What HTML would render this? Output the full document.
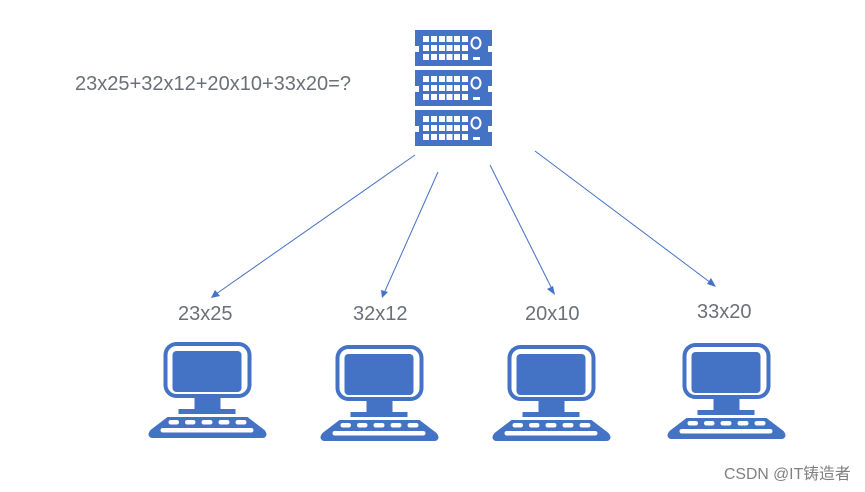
<!DOCTYPE html>
<html><head><meta charset="utf-8"><style>
html,body{margin:0;padding:0;background:#fff;width:865px;height:492px;overflow:hidden}
svg{display:block;filter:blur(.35px)}
text{font-family:"Liberation Sans","Noto Sans CJK SC",sans-serif}
</style></head><body>
<svg width="865" height="492" viewBox="0 0 865 492" xmlns="http://www.w3.org/2000/svg">
<defs>
<g id="srv">
<path fill="#4472c4" d="M415 0H492V16H488V22H492V36H415V22H419V16H415Z"/>
<g fill="#fff">
<rect x="423" y="6" width="6" height="6"/><rect x="431" y="6" width="6" height="6"/><rect x="439" y="6" width="6" height="6"/><rect x="446.500" y="6" width="6" height="6"/><rect x="454" y="6" width="6" height="6"/><rect x="462" y="6" width="6" height="6"/>
<rect x="423" y="15" width="6" height="6"/><rect x="431" y="15" width="6" height="6"/><rect x="439" y="15" width="6" height="6"/><rect x="446.500" y="15" width="6" height="6"/><rect x="454" y="15" width="6" height="6"/><rect x="462" y="15" width="6" height="6"/>
<rect x="423" y="24" width="6" height="6"/><rect x="431" y="24" width="6" height="6"/><rect x="439" y="24" width="6" height="6"/><rect x="446.500" y="24" width="6" height="6"/><rect x="454" y="24" width="6" height="6"/><rect x="462" y="24" width="6" height="6"/>
<rect x="473" y="27" width="7" height="3"/>
</g>
<ellipse cx="476" cy="13" rx="4.500" ry="5.500" fill="none" stroke="#fff" stroke-width="2"/>
</g>
<g id="pc">
<rect x="163" y="342" width="88" height="56" rx="13" fill="#4472c4"/>
<rect x="167" y="346" width="80" height="48" rx="9" fill="#fff"/>
<rect x="172" y="351" width="69" height="41" rx="4" fill="#4472c4"/>
<path fill="#4472c4" d="M194 397H220V409H235V414H178V409H194Z"/>
<path fill="#4472c4" d="M167 417H247L264 430Q267 434 265.500 436Q264.500 438 262 438H152Q149.500 438 148.500 436Q147 434 150 430Z"/>
<g fill="#fff">
<rect x="168" y="420" width="10.500" height="4.500" rx="2.200"/><rect x="184.500" y="420" width="10.500" height="4.500" rx="2.200"/><rect x="201" y="420" width="11" height="4.500" rx="2.200"/><rect x="218" y="420" width="11" height="4.500" rx="2.200"/><rect x="235" y="420" width="11" height="4.500" rx="2.200"/>
<rect x="160" y="428" width="93" height="4.500" rx="2.200"/>
</g>
</g>
</defs>
<use href="#srv" y="30"/><use href="#srv" y="70"/><use href="#srv" y="110"/>
<g stroke="#4472c4" stroke-width="1" fill="none">
<line x1="415" y1="155" x2="216" y2="294"/>
<line x1="438" y1="172" x2="385" y2="291"/>
<line x1="490" y1="165" x2="551" y2="287"/>
<line x1="535" y1="151" x2="711" y2="283"/>
</g>
<g fill="#4472c4">
<path d="M211 298L215 290L220 296Z"/>
<path d="M382 298L381 290L388 292Z"/>
<path d="M555 295L547 289L553 286Z"/>
<path d="M716 287L707 284L711 278Z"/>
</g>
<use href="#pc" x="0.500"/>
<use href="#pc" x="172.500" y="3"/>
<use href="#pc" x="344.500" y="3"/>
<use href="#pc" x="519.500" y="1"/>
<g fill="#6b7078" font-size="20">
<text x="75" y="90" textLength="276" lengthAdjust="spacingAndGlyphs">23x25+32x12+20x10+33x20=?</text>
<text x="178" y="320">23x25</text>
<text x="353" y="320">32x12</text>
<text x="525" y="320">20x10</text>
<text x="697" y="318">33x20</text>
</g>
<text x="724" y="479" font-size="15.800" fill="#808080">CSDN @IT铸造者</text>
</svg>
</body></html>
